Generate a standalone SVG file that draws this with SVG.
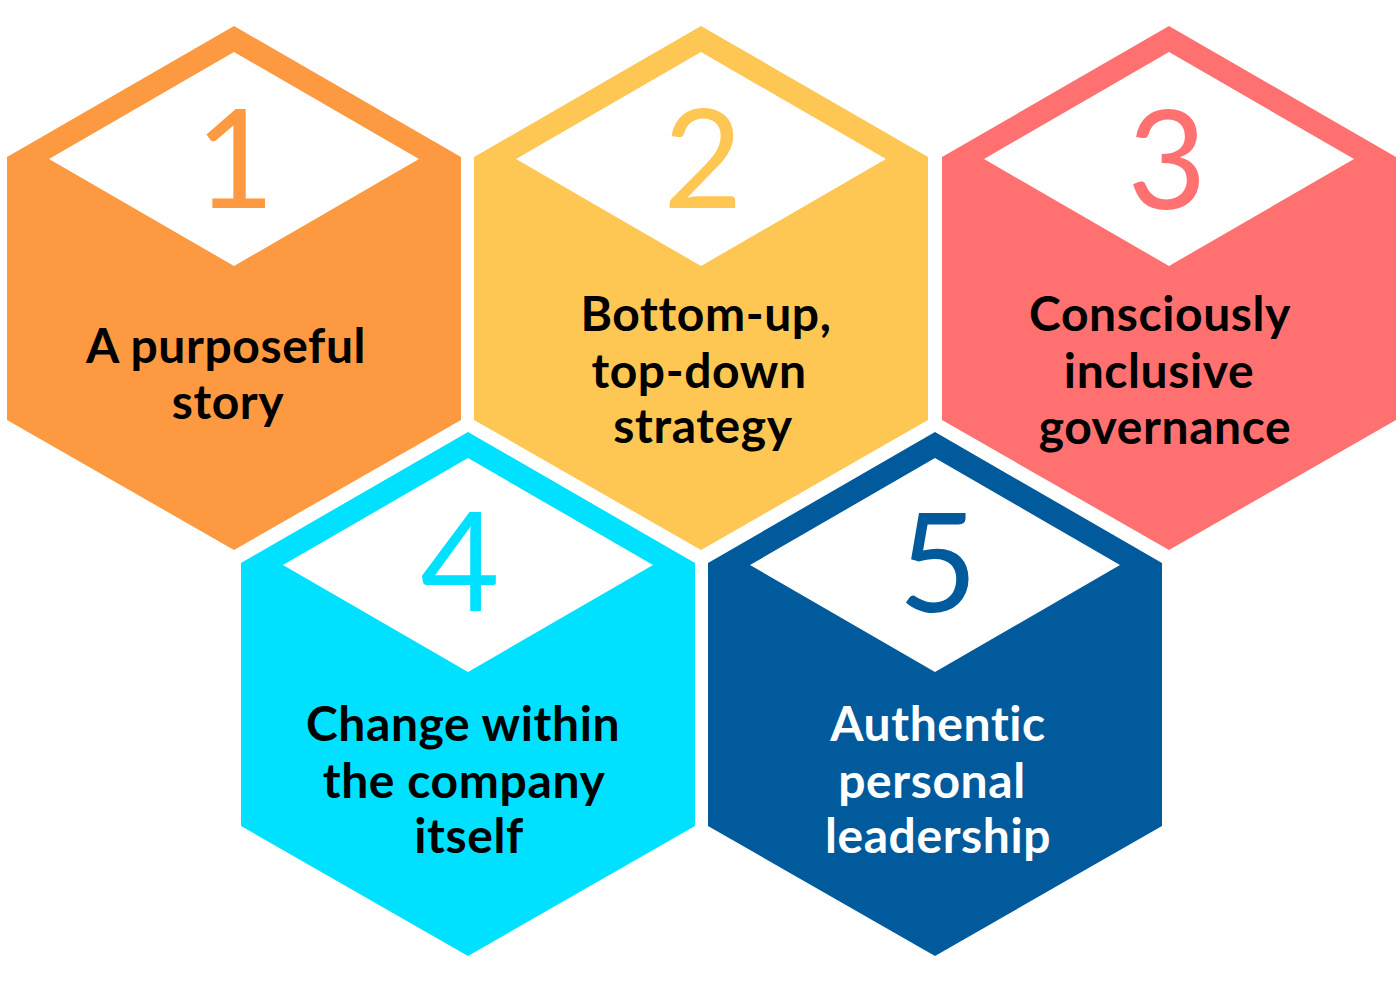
<svg xmlns="http://www.w3.org/2000/svg" width="1400" height="993" viewBox="0 0 1400 993">
<defs>
<style>
.num{font-family:Lato,"Liberation Sans",sans-serif;font-weight:400;font-size:137px;text-anchor:middle}
.lbl{font-family:Lato,"Liberation Sans",sans-serif;font-weight:700;font-size:48px;text-anchor:middle;fill:#000;letter-spacing:0.6px;font-variant-ligatures:none;font-feature-settings:"liga" 0}
.w{fill:#fff}
</style>
<path id="hex" d="M0,0 L227,131 L227,394 L0,524 L-227,394 L-227,131 Z"/>
<path id="dia" d="M0,26 L185,133 L0,240 L-185,133 Z"/>
</defs>
<rect width="1400" height="993" fill="#fff"/>
<g id="connectors"/>
<g id="node1">
<use href="#hex" x="234" y="26" fill="#FD9940"/>
<use href="#dia" x="234" y="26" class="w"/>
<text class="num" x="235" y="208" fill="#FD9940">1</text>
<text class="lbl" x="226" y="363">A purposeful</text>
<text class="lbl" x="228" y="419">story</text>
</g>
<g id="node2">
<use href="#hex" x="701" y="26" fill="#FEC652"/>
<use href="#dia" x="701" y="26" class="w"/>
<text class="num" x="703" y="208" fill="#FEC652">2</text>
<text class="lbl" x="706" y="331">Bottom-up,</text>
<text class="lbl" x="699" y="388">top-down</text>
<text class="lbl" x="703" y="443">strategy</text>
</g>
<g id="node3">
<use href="#hex" x="1169" y="26" fill="#FF7170"/>
<use href="#dia" x="1169" y="26" class="w"/>
<text class="num" x="1167" y="209" fill="#FF7170">3</text>
<text class="lbl" x="1160" y="331">Consciously</text>
<text class="lbl" x="1159" y="388">inclusive</text>
<text class="lbl" x="1165" y="444">governance</text>
</g>
<g id="node4">
<use href="#hex" x="468" y="432" fill="#00E1FF"/>
<use href="#dia" x="468" y="432" class="w"/>
<text class="num" x="460" y="611" fill="#00E1FF">4</text>
<text class="lbl" x="463" y="741">Change within</text>
<text class="lbl" x="464" y="798">the company</text>
<text class="lbl" x="469" y="853">itself</text>
</g>
<g id="node5">
<use href="#hex" x="935" y="432" fill="#005A9B"/>
<use href="#dia" x="935" y="432" class="w"/>
<text class="num" x="938" y="612" fill="#005A9B">5</text>
<text class="lbl w" x="938" y="741">Authentic</text>
<text class="lbl w" x="932" y="798">personal</text>
<text class="lbl w" x="938" y="853">leadership</text>
</g>
</svg>
